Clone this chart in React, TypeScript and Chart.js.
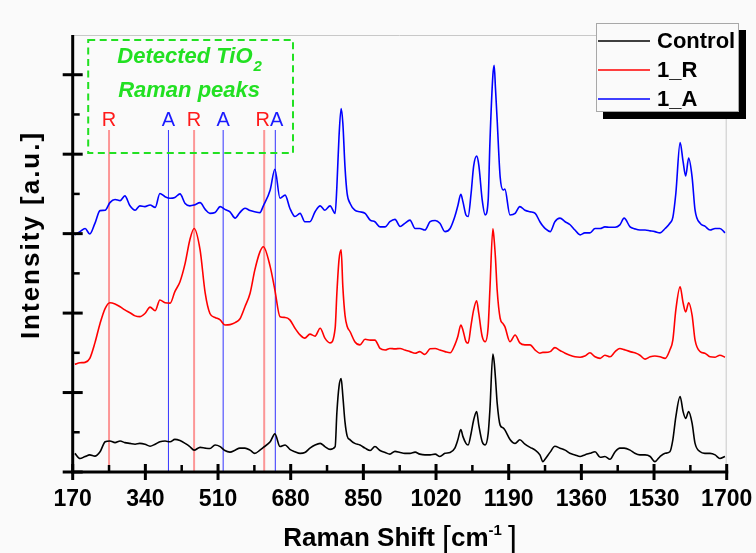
import React, { useEffect, useRef } from 'react';
import { Chart, registerables } from 'chart.js';

Chart.register(...registerables);

const FONT = '"Liberation Sans", Arial, Helvetica, sans-serif';
const GREEN = '#22e022';

// Raman shift (cm-1)
const wavenumbers = [
  175, 187, 199, 210, 222, 234, 246, 257, 269, 281,
  292, 304, 316, 327, 339, 351, 363, 374, 386, 398,
  409, 421, 433, 444, 454, 468, 480, 491, 503, 515,
  526, 538, 550, 561, 573, 585, 596, 608, 616, 632,
  643, 655, 667, 678, 690, 702, 713, 725, 737, 749,
  760, 772, 784, 788, 793, 798, 802, 807, 812, 819,
  830, 842, 854, 866, 877, 889, 901, 912, 924, 936,
  947, 959, 971, 982, 994, 1006, 1018, 1029, 1041, 1053,
  1064, 1071, 1078, 1083, 1090, 1095, 1102, 1108, 1115, 1120,
  1128, 1135, 1142, 1146, 1153, 1156, 1159, 1163, 1170, 1177,
  1181, 1193, 1205, 1216, 1228, 1240, 1252, 1263, 1270, 1275,
  1287, 1298, 1310, 1322, 1333, 1345, 1357, 1368, 1380, 1392,
  1404, 1415, 1427, 1439, 1450, 1460, 1474, 1485, 1497, 1509,
  1521, 1532, 1544, 1556, 1567, 1574, 1581, 1591, 1598, 1604,
  1611, 1619, 1626, 1638, 1649, 1661, 1673, 1684, 1696,
];

// Intensity (a.u., stacked offsets as plotted)
const control = [
  47, 34, 39, 43, 40, 51, 76, 78, 74, 78,
  74, 72, 70, 72, 70, 65, 70, 76, 78, 76,
  82, 79, 72, 64, 55, 62, 60, 59, 68, 64,
  54, 50, 55, 60, 60, 55, 47, 55, 62, 76,
  96, 64, 68, 57, 51, 47, 49, 60, 68, 72,
  64, 57, 64, 149, 215, 235, 191, 126, 91, 81,
  72, 68, 60, 54, 64, 54, 49, 45, 52, 49,
  47, 47, 50, 45, 43, 43, 45, 39, 47, 49,
  60, 81, 107, 89, 72, 68, 97, 131, 152, 118,
  76, 68, 97, 156, 297, 277, 237, 174, 118, 111,
  106, 82, 72, 81, 70, 62, 55, 43, 26, 32,
  50, 65, 60, 55, 47, 43, 39, 43, 47, 51,
  37, 39, 32, 51, 60, 60, 55, 47, 43, 43,
  39, 26, 39, 47, 51, 81, 139, 190, 152, 135,
  152, 123, 72, 51, 47, 47, 43, 34, 39,
];

const sample1R = [
  271, 275, 276, 286, 325, 374, 412, 426, 423, 416,
  408, 401, 393, 391, 399, 415, 406, 433, 426, 425,
  454, 479, 525, 584, 613, 559, 450, 399, 389, 383,
  370, 371, 376, 385, 416, 450, 508, 554, 567, 517,
  458, 391, 389, 383, 362, 345, 337, 347, 342, 362,
  337, 325, 362, 450, 534, 559, 466, 395, 367, 353,
  328, 320, 334, 332, 332, 311, 307, 311, 310, 311,
  307, 303, 299, 303, 296, 310, 311, 307, 303, 300,
  320, 341, 370, 357, 328, 324, 370, 408, 431, 399,
  341, 328, 366, 458, 612, 584, 539, 458, 387, 373,
  366, 328, 345, 325, 320, 320, 307, 299, 301, 301,
  303, 313, 306, 299, 294, 290, 289, 292, 300, 290,
  286, 294, 290, 303, 311, 308, 303, 300, 294, 284,
  290, 292, 290, 286, 307, 332, 408, 466, 426, 403,
  426, 395, 332, 303, 299, 290, 289, 294, 289,
];

const sample1A = [
  597, 605, 613, 599, 626, 658, 659, 678, 686, 683,
  695, 670, 659, 670, 668, 672, 666, 701, 693, 689,
  691, 700, 676, 670, 672, 678, 661, 651, 653, 668,
  661, 655, 639, 653, 664, 658, 655, 653, 670, 710,
  762, 689, 697, 664, 643, 651, 630, 630, 655, 670,
  659, 670, 651, 718, 844, 915, 878, 768, 701, 676,
  659, 655, 651, 634, 630, 617, 617, 630, 636, 618,
  626, 634, 613, 613, 609, 630, 633, 626, 605, 613,
  643, 670, 699, 680, 647, 643, 701, 770, 795, 773,
  685, 647, 685, 827, 999, 1024, 967, 886, 743, 710,
  712, 647, 651, 668, 659, 655, 651, 630, 619, 613,
  605, 630, 639, 630, 623, 609, 597, 602, 602, 613,
  613, 617, 616, 616, 622, 639, 617, 612, 609, 609,
  607, 605, 602, 613, 626, 641, 701, 829, 781, 745,
  790, 743, 659, 626, 619, 609, 613, 613, 602,
];

const seriesNames = ['Control', '1_R', '1_A'];
const seriesColors = ['#000000', '#ff0000', '#0000ff'];

// Detected TiO2 peak markers (cm-1)
const rutilePeaks = [255, 454, 618];
const anatasePeaks = [394, 522, 644];

const X_MIN = 170;
const X_MAX = 1700;
const X_STEP = 170;
const Y_MIN = 0;
const Y_MAX = 1100;
const Y_STEP = 200;

function seg(ctx: CanvasRenderingContext2D, x1: number, y1: number, x2: number, y2: number) {
  ctx.beginPath();
  ctx.moveTo(x1, y1);
  ctx.lineTo(x2, y2);
  ctx.stroke();
}

const decorPlugin = {
  id: 'ramanDecor',
  beforeDatasetsDraw(chart: any) {
    const { ctx, chartArea: ca, scales } = chart;
    const xs = scales.x;
    ctx.save();
    // light frame top/right
    ctx.strokeStyle = '#c8c8c8';
    ctx.lineWidth = 1;
    ctx.beginPath();
    ctx.moveTo(ca.left, ca.top + 0.5);
    ctx.lineTo(ca.right - 0.5, ca.top + 0.5);
    ctx.lineTo(ca.right - 0.5, ca.bottom);
    ctx.stroke();
    // peak marker lines
    const lineTop = ca.top + 95;
    ctx.lineWidth = 2;
    ctx.strokeStyle = 'rgba(255,0,0,0.4)';
    rutilePeaks.forEach((p) => {
      const x = xs.getPixelForValue(p);
      seg(ctx, x, lineTop, x, ca.bottom);
    });
    ctx.lineWidth = 1;
    ctx.strokeStyle = 'rgba(0,0,255,0.8)';
    anatasePeaks.forEach((p) => {
      const x = xs.getPixelForValue(p);
      seg(ctx, x, lineTop, x, ca.bottom);
    });
    ctx.restore();
  },
  afterDatasetsDraw(chart: any) {
    const { ctx, chartArea: ca, scales } = chart;
    const xs = scales.x;
    const ys = scales.y;
    ctx.save();
    ctx.strokeStyle = '#000';
    ctx.lineCap = 'butt';
    // axes
    ctx.lineWidth = 3;
    seg(ctx, ca.left - 1.5, ca.bottom, ca.right + 1.5, ca.bottom);
    seg(ctx, ca.left, ca.top, ca.left, ca.bottom + 1.5);
    // x ticks
    for (let v = X_MIN; v <= X_MAX; v += X_STEP) {
      const x = xs.getPixelForValue(v);
      seg(ctx, x, ca.bottom - 8, x, ca.bottom + 8);
    }
    ctx.lineWidth = 2.5;
    for (let v = X_MIN + X_STEP / 2; v < X_MAX; v += X_STEP) {
      const x = xs.getPixelForValue(v);
      seg(ctx, x, ca.bottom, x, ca.bottom - 7);
    }
    // y ticks
    ctx.lineWidth = 3;
    for (let v = Y_MIN; v <= 1000; v += Y_STEP) {
      const y = ys.getPixelForValue(v);
      seg(ctx, ca.left - 10, y, ca.left + 10, y);
    }
    ctx.lineWidth = 2.5;
    for (let v = Y_MIN + Y_STEP / 2; v < Y_MAX; v += Y_STEP) {
      const y = ys.getPixelForValue(v);
      seg(ctx, ca.left, y, ca.left + 7, y);
    }

    // green dashed annotation box
    const bl = ca.left + 15.5, br = 293, bt = ca.top + 5, bb = ca.top + 118;
    ctx.strokeStyle = GREEN;
    ctx.lineWidth = 2;
    ctx.setLineDash([7, 4.5]);
    ctx.strokeRect(bl, bt, br - bl, bb - bt);
    ctx.setLineDash([]);
    const cx = (bl + br) / 2 - 1.5;
    ctx.fillStyle = GREEN;
    ctx.textBaseline = 'alphabetic';
    ctx.textAlign = 'left';
    ctx.font = `italic bold 22px ${FONT}`;
    const t1 = 'Detected TiO';
    const w1 = ctx.measureText(t1).width;
    ctx.font = `italic bold 15px ${FONT}`;
    const w2 = ctx.measureText('2').width;
    const sx = cx - (w1 + w2) / 2;
    ctx.font = `italic bold 22px ${FONT}`;
    ctx.fillText(t1, sx, ca.top + 28);
    ctx.font = `italic bold 15px ${FONT}`;
    ctx.fillText('2', sx + w1 + 1, ca.top + 36);
    ctx.font = `italic bold 22px ${FONT}`;
    ctx.textAlign = 'center';
    ctx.fillText('Raman peaks', cx, ca.top + 62);

    // R / A labels
    const labels: { x: number; t: string; c: string }[] = [];
    rutilePeaks.forEach((p) => labels.push({ x: xs.getPixelForValue(p), t: 'R', c: '#ff1a1a' }));
    anatasePeaks.forEach((p) => labels.push({ x: xs.getPixelForValue(p), t: 'A', c: '#1a1aff' }));
    labels.sort((a, b) => a.x - b.x);
    for (let i = 0; i < labels.length - 1; i++) {
      const gap = labels[i + 1].x - labels[i].x;
      if (gap < 14) {
        const push = (14 - gap) / 2;
        labels[i].x -= push;
        labels[i + 1].x += push;
      }
    }
    ctx.font = `20px ${FONT}`;
    ctx.textAlign = 'center';
    ctx.textBaseline = 'middle';
    labels.forEach((l) => {
      ctx.fillStyle = l.c;
      ctx.fillText(l.t, l.x, ca.top + 85);
    });

    // legend with shadow
    const lx = 596, ly = 23, lw = 143, lh = 89;
    ctx.fillStyle = '#000';
    ctx.fillRect(lx + 7, ly + 7, lw, lh);
    ctx.fillStyle = '#fafafa';
    ctx.fillRect(lx, ly, lw, lh);
    ctx.strokeStyle = '#a8a8a8';
    ctx.lineWidth = 1;
    ctx.strokeRect(lx + 0.5, ly + 0.5, lw - 1, lh - 1);
    ctx.font = `bold 22px ${FONT}`;
    ctx.textAlign = 'left';
    ctx.textBaseline = 'middle';
    chart.data.datasets.forEach((ds: any, i: number) => {
      const y = ly + 18 + i * 29;
      ctx.strokeStyle = ds.borderColor;
      ctx.lineWidth = 1.5;
      seg(ctx, lx + 2, y, lx + 54, y);
      ctx.fillStyle = '#000';
      ctx.fillText(ds.label, lx + 61, y + 1);
    });

    // y-axis title
    ctx.save();
    ctx.translate(32, 235);
    ctx.rotate(-Math.PI / 2);
    ctx.font = `bold 26px ${FONT}`;
    (ctx as any).letterSpacing = '2px';
    ctx.textAlign = 'center';
    ctx.textBaseline = 'middle';
    ctx.fillStyle = '#000';
    ctx.fillText('Intensity [a.u.]', 0, 0);
    ctx.restore();

    // x-axis title: Raman Shift [cm-1]
    const base = 546;
    const parts = [
      { t: 'Raman Shift ', f: `bold 26px ${FONT}`, dy: 0 },
      { t: '[', f: `32px ${FONT}`, dy: 2 },
      { t: 'cm', f: `bold 26px ${FONT}`, dy: 0 },
      { t: '-1', f: `bold 15px ${FONT}`, dy: -11 },
      { t: ']', f: `32px ${FONT}`, dy: 2 },
    ];
    ctx.textAlign = 'left';
    ctx.textBaseline = 'alphabetic';
    ctx.fillStyle = '#000';
    let total = 0;
    const widths = parts.map((p) => {
      ctx.font = p.f;
      const w = ctx.measureText(p.t).width + (p.t === '-1' ? 6 : 0);
      total += w;
      return w;
    });
    let px = 400 - total / 2;
    parts.forEach((p, i) => {
      ctx.font = p.f;
      ctx.fillText(p.t, px, base + p.dy);
      px += widths[i];
    });
    ctx.restore();
  },
};

export default function App() {
  const canvasRef = useRef<HTMLCanvasElement | null>(null);

  useEffect(() => {
    const canvas = canvasRef.current;
    if (!canvas) return;
    const series = [control, sample1R, sample1A];
    const chart = new Chart(canvas, {
      type: 'line',
      data: {
        datasets: series.map((vals, i) => ({
          label: seriesNames[i],
          data: wavenumbers.map((w, j) => ({ x: w, y: vals[j] })),
          borderColor: seriesColors[i],
          backgroundColor: seriesColors[i],
          borderWidth: 1.6,
          pointRadius: 0,
          fill: false,
          cubicInterpolationMode: 'monotone' as const,
        })),
      },
      options: {
        responsive: false,
        animation: false,
        events: [],
        layout: { padding: { top: 35, right: 29.3, left: 72.7, bottom: 0 } },
        plugins: {
          legend: { display: false },
          title: { display: false },
          tooltip: { enabled: false },
        },
        scales: {
          x: {
            type: 'linear',
            min: X_MIN,
            max: X_MAX,
            grid: { display: false, drawTicks: false },
            border: { display: false },
            ticks: {
              stepSize: X_STEP,
              padding: 14,
              color: '#000',
              maxRotation: 0,
              autoSkip: false,
              font: { family: FONT, size: 23, weight: 'bold' },
              callback: (v: any) => String(v),
            },
            afterFit: (s: any) => {
              s.height = 81;
              s.paddingLeft = 0;
              s.paddingRight = 0;
            },
          },
          y: {
            type: 'linear',
            min: Y_MIN,
            max: Y_MAX,
            display: false,
          },
        },
      },
      plugins: [decorPlugin],
    } as any);
    return () => chart.destroy();
  }, []);

  return (
    <div style={{ position: 'absolute', left: 0, top: 0, width: 756, height: 553, background: '#fafafa' }}>
      <canvas ref={canvasRef} width={756} height={553} style={{ display: 'block' }} />
    </div>
  );
}
